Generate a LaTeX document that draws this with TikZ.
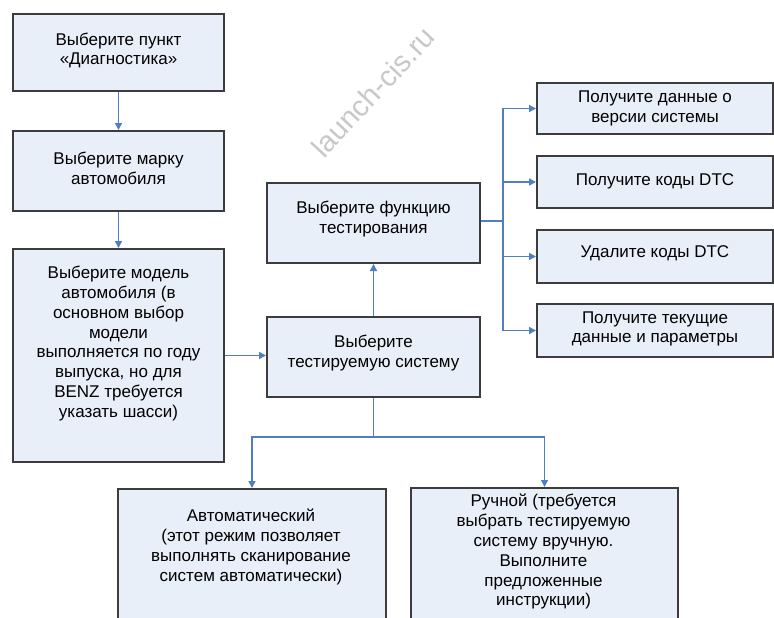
\documentclass[tikz,border=0pt]{standalone}
\usepackage{fontspec}
\setmainfont{Liberation Sans}
\usetikzlibrary{arrows.meta}
\definecolor{boxfill}{HTML}{E9EFF8}
\definecolor{boxline}{HTML}{3C3C3C}
\definecolor{conn}{HTML}{4F7FC2}
\definecolor{wm}{HTML}{C8C8C8}
\tikzset{
  box/.style={draw=boxline, line width=2pt, fill=boxfill, rectangle, inner sep=0pt, anchor=north west},
  txt/.style={align=center, font=\fontsize{17}{19.8}\selectfont, text=black, inner sep=0pt},
  conline/.style={draw=conn, line width=1.5pt},
  conarrow/.style={conline, -{Triangle[length=7pt,width=7pt]}},
}
\begin{document}
\begin{tikzpicture}[x=1pt,y=-1pt]
\clip (0,0) rectangle (774,618);
\fill[white] (0,0) rectangle (774,618);
% watermark
\node[text=wm, font=\fontsize{29}{29}\selectfont, rotate=47] (wmark) at (373,92) {launch-cis.ru};
% left column
\node[box, minimum width=211pt, minimum height=77pt] (b1) at (12,13) {};
\node[txt] (b1t) at (b1.center) [yshift=2pt] {Выберите пункт\\«Диагностика»};
\node[box, minimum width=211pt, minimum height=80pt] (b2) at (12,130) {};
\node[txt] (b2t) at (b2.center) [yshift=3pt] {Выберите марку\\автомобиля};
\node[box, minimum width=211pt, minimum height=213pt] (b3) at (12,248) {};
\node[txt] (b3t) at (b3.center) [yshift=12pt] {Выберите модель\\автомобиля (в\\основном выбор\\модели\\выполняется по году\\выпуска, но для\\BENZ требуется\\указать шасси)};
% middle
\node[box, minimum width=213pt, minimum height=80pt] (f) at (266,182) {};
\node[txt] (ft) at (f.center) [yshift=4pt] {Выберите функцию\\тестирования};
\node[box, minimum width=213pt, minimum height=80pt] (s) at (266,316) {};
\node[txt] (st) at (s.center) [yshift=4pt] {Выберите\\тестируемую систему};
% right
\node[box, minimum width=236pt, minimum height=51pt] (r1) at (536,82) {};
\node[txt] (r1t) at (r1.center) [yshift=0pt] {Получите данные о\\версии системы};
\node[box, minimum width=236pt, minimum height=52pt] (r2) at (536,155) {};
\node[txt] (r2t) at (r2.center) [yshift=1pt] {Получите коды DTC};
\node[box, minimum width=236pt, minimum height=53pt] (r3) at (536,229) {};
\node[txt] (r3t) at (r3.center) [yshift=3pt] {Удалите коды DTC};
\node[box, minimum width=236pt, minimum height=53pt] (r4) at (536,303) {};
\node[txt] (r4t) at (r4.center) [yshift=1.5pt] {Получите текущие\\данные и параметры};
% bottom
\node[box, minimum width=268pt, minimum height=160pt] (a) at (117,488) {};
\node[txt, anchor=north] (at) at (251,509) {Автоматический\\(этот режим позволяет\\выполнять сканирование\\систем автоматически)};
\node[box, minimum width=267pt, minimum height=160pt] (m) at (410,487) {};
\node[txt, anchor=north] (mt) at (543.5,494) {Ручной (требуется\\выбрать тестируемую\\систему вручную.\\Выполните\\предложенные\\инструкции)};
% connectors
\draw[conarrow] (b1.south) -- (b2.north);
\draw[conarrow] (b2.south) -- (b3.north);
\draw[conarrow] (b3.east) -- (b3.east -| s.west);
\draw[conarrow] (s.north) -- (f.south);
\coordinate (jr) at (503,221);
\path (s.south) ++(0,39) coordinate (js);
\draw[conline] (f.east |- jr) -- (jr);
\draw[conarrow] (jr) |- (r1.west);
\draw[conarrow] (jr) |- (r2.west);
\draw[conarrow] (jr) |- (r3.west);
\draw[conarrow] (jr) |- (r4.west);
\draw[conline] (s.south) -- (js);
\draw[conarrow] (js) -| (a.north);
\draw[conarrow] (js) -| (m.north);
\end{tikzpicture}
\end{document}
